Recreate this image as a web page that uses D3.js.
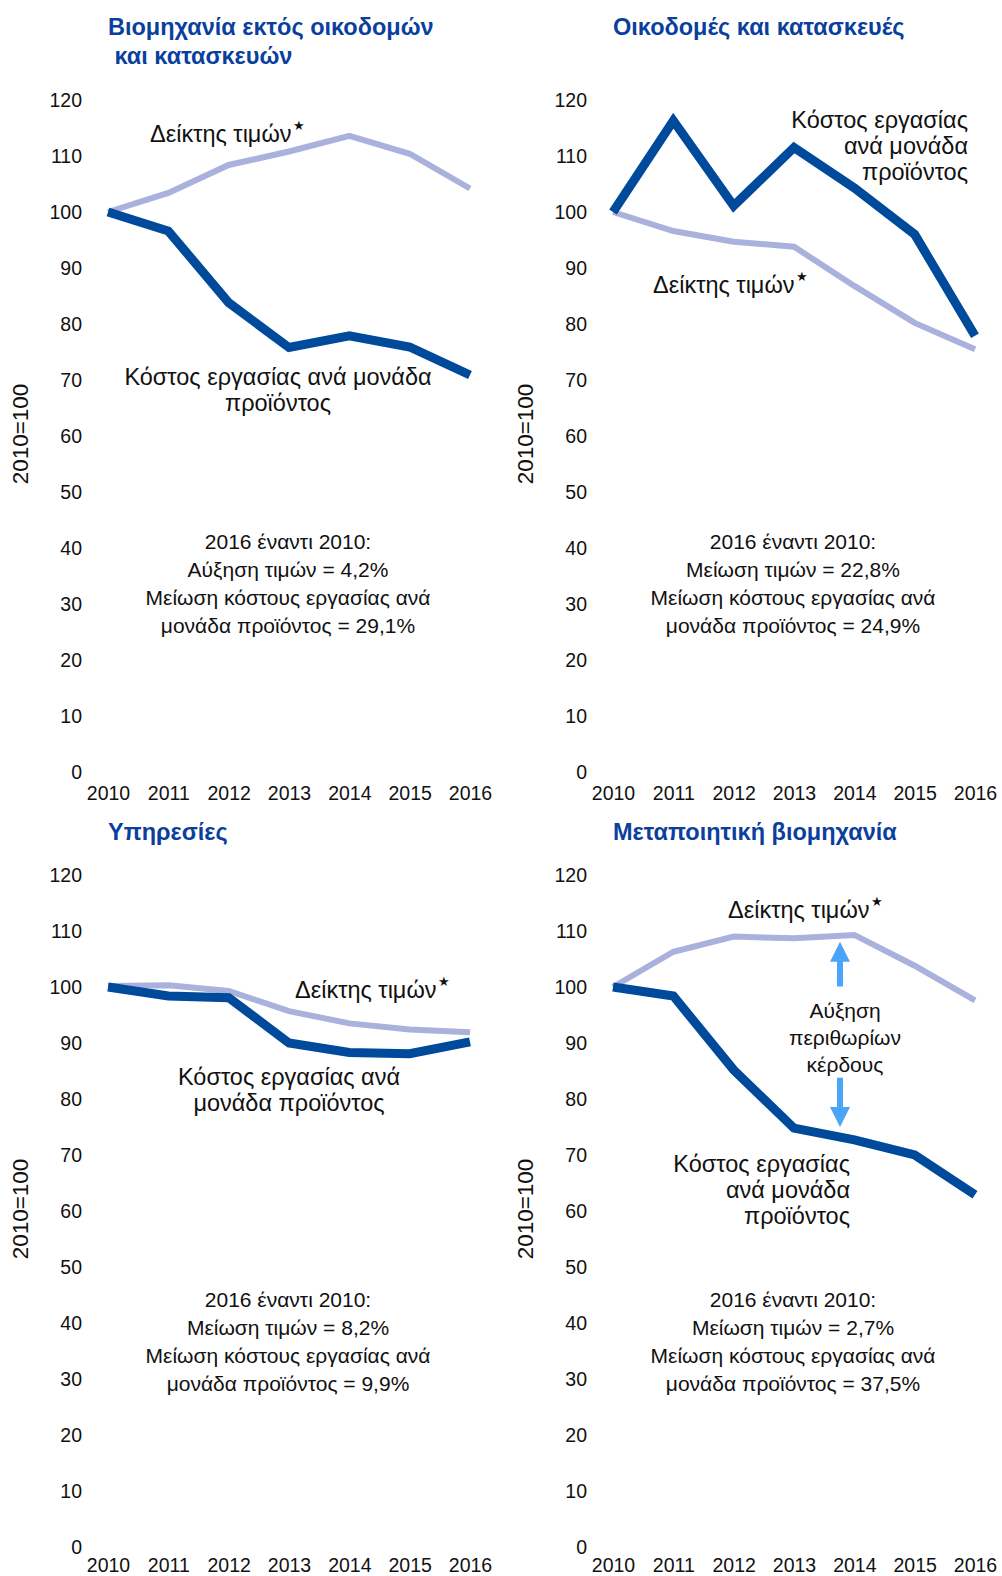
<!DOCTYPE html>
<html>
<head>
<meta charset="utf-8">
<script src="https://cdn.jsdelivr.net/npm/d3@7"></script>
<style>
  body { margin: 0; background: #fff; }
  svg { display: block; font-family: "Liberation Sans", Arial, sans-serif; }
</style>
</head>
<body>
<svg id="chart" width="1002" height="1576"></svg>
<script>
// data (2010 = 100)
const years = [2010, 2011, 2012, 2013, 2014, 2015, 2016];
const yTicks = [0, 10, 20, 30, 40, 50, 60, 70, 80, 90, 100, 110, 120];

const industryPrice = [100, 103.4, 108.4, 110.8, 113.6, 110.4, 104.2];
const industryCost = [100, 96.6, 83.8, 75.8, 77.9, 75.9, 70.9];
const constructionPrice = [100, 96.6, 94.7, 93.8, 86.8, 80.2, 75.5];
const constructionCost = [100, 116.3, 101.1, 111.5, 104.3, 96.0, 77.9];
const servicesPrice = [100.2, 100.3, 99.3, 95.7, 93.5, 92.4, 91.9];
const servicesCost = [100, 98.4, 98.1, 90.0, 88.3, 88.1, 90.2];
const manufPrice = [100, 106.3, 109.0, 108.7, 109.3, 103.8, 97.6];
const manufCost = [100, 98.4, 85.2, 74.8, 72.7, 70.0, 62.9];

const titles = [
  ["Βιομηχανία εκτός οικοδομών", " και κατασκευών"],
  ["Οικοδομές και κατασκευές"],
  ["Υπηρεσίες"],
  ["Μεταποιητική βιομηχανία"]
];
const notes = [
  ["2016 έναντι 2010:", "Αύξηση τιμών = 4,2%", "Μείωση κόστους εργασίας ανά", "μονάδα προϊόντος = 29,1%"],
  ["2016 έναντι 2010:", "Μείωση τιμών = 22,8%", "Μείωση κόστους εργασίας ανά", "μονάδα προϊόντος = 24,9%"],
  ["2016 έναντι 2010:", "Μείωση τιμών = 8,2%", "Μείωση κόστους εργασίας ανά", "μονάδα προϊόντος = 9,9%"],
  ["2016 έναντι 2010:", "Μείωση τιμών = 2,7%", "Μείωση κόστους εργασίας ανά", "μονάδα προϊόντος = 37,5%"]
];
const priceLabel = "Δείκτης τιμών";
const yLabel = "2010=100";
const marginLabel = ["Αύξηση", "περιθωρίων", "κέρδους"];

const darkBlue = "#004a9c";
const lightBlue = "#a9b1dc";
const titleBlue = "#0a3f9e";
const arrowBlue = "#4aa5f8";

const svg = d3.select("#chart");

// layout of the four panels
const panels = [
  { ox: 0, top: 100, bottom: 772, pad: 14, price: industryPrice, cost: industryCost, title: titles[0], note: notes[0],
    titleY: 35, noteY: 549,
    priceLab: { x: 150, y: 142, anchor: "start" },
    costLab: { x: 278, y: 385, anchor: "middle", lines: ["Κόστος εργασίας ανά μονάδα", "προϊόντος"] } },
  { ox: 505, top: 100, bottom: 772, pad: 14, price: constructionPrice, cost: constructionCost, title: titles[1], note: notes[1],
    titleY: 35, noteY: 549,
    priceLab: { x: 653, y: 293, anchor: "start" },
    costLab: { x: 968, y: 128, anchor: "end", lines: ["Κόστος εργασίας", "ανά μονάδα", "προϊόντος"] } },
  { ox: 0, top: 875, bottom: 1547, pad: 11, price: servicesPrice, cost: servicesCost, title: titles[2], note: notes[2],
    titleY: 840, noteY: 1307,
    priceLab: { x: 295, y: 998, anchor: "start" },
    costLab: { x: 289, y: 1085, anchor: "middle", lines: ["Κόστος εργασίας ανά", "μονάδα προϊόντος"] } },
  { ox: 505, top: 875, bottom: 1547, pad: 11, price: manufPrice, cost: manufCost, title: titles[3], note: notes[3],
    titleY: 840, noteY: 1307, arrows: true,
    priceLab: { x: 728, y: 918, anchor: "start" },
    costLab: { x: 850, y: 1172, anchor: "end", lines: ["Κόστος εργασίας", "ανά μονάδα", "προϊόντος"] } }
];

panels.forEach(p => {
  const g = svg.append("g");
  const x = d3.scalePoint().domain(years).range([p.ox + 108, p.ox + 470]);
  const y = d3.scaleLinear().domain([0, 120]).range([p.bottom, p.top]);

  // title
  const t = g.append("text")
    .attr("font-weight", "bold").attr("font-size", 23.5).attr("fill", titleBlue);
  p.title.forEach((s, i) => {
    t.append("tspan").attr("x", p.ox + 108).attr("y", p.titleY + i * 29)
      .attr("xml:space", "preserve").text(s);
  });

  // y axis
  const ya = g.append("g")
    .attr("transform", `translate(${p.ox + 90},0)`)
    .call(d3.axisLeft(y).tickValues(yTicks).tickSize(0).tickPadding(8));
  ya.select(".domain").remove();
  ya.selectAll("text").attr("font-size", 19.5).attr("fill", "#111")
    .attr("font-family", "Liberation Sans, Arial, sans-serif");

  // x axis
  const xa = g.append("g")
    .attr("transform", `translate(0,${p.bottom})`)
    .call(d3.axisBottom(x).tickSize(0).tickPadding(p.pad));
  xa.select(".domain").remove();
  xa.selectAll("text").attr("font-size", 19.5).attr("fill", "#111")
    .attr("font-family", "Liberation Sans, Arial, sans-serif");

  // y label
  g.append("text")
    .attr("transform", `translate(${p.ox + 28},${(p.top + p.bottom) / 2 - 2}) rotate(-90)`)
    .attr("text-anchor", "middle").attr("font-size", 22.5).attr("fill", "#111")
    .text(yLabel);

  const line = d3.line().x((d, i) => x(years[i])).y(d => y(d));

  g.append("path").datum(p.price)
    .attr("d", line).attr("fill", "none")
    .attr("stroke", lightBlue).attr("stroke-width", 6);
  g.append("path").datum(p.cost)
    .attr("d", line).attr("fill", "none")
    .attr("stroke", darkBlue).attr("stroke-width", 9);

  // series labels
  const pl = g.append("text").attr("x", p.priceLab.x).attr("y", p.priceLab.y)
    .attr("text-anchor", p.priceLab.anchor).attr("font-size", 23.5).attr("fill", "#111");
  pl.append("tspan").text(priceLabel);
  pl.append("tspan").attr("font-size", 13).attr("dy", -12).attr("dx", 1).text("★");

  const cl = g.append("text").attr("text-anchor", p.costLab.anchor)
    .attr("font-size", 23.5).attr("fill", "#111");
  p.costLab.lines.forEach((s, i) => {
    cl.append("tspan").attr("x", p.costLab.x).attr("y", p.costLab.y + i * 26).text(s);
  });

  // note
  const nt = g.append("text").attr("text-anchor", "middle")
    .attr("font-size", 21).attr("fill", "#111");
  p.note.forEach((s, i) => {
    nt.append("tspan").attr("x", p.ox + 288).attr("y", p.noteY + i * 28).text(s);
  });

  if (p.arrows) {
    const ax = p.ox + 335;
    const arrow = (from, to) => {
      const y0 = y(from), y1 = y(to);
      const dir = y1 < y0 ? -1 : 1;
      const head = y1 - dir * 20;
      g.append("path")
        .attr("d", `M${ax - 3},${y0} L${ax - 3},${head} L${ax - 10},${head} L${ax},${y1} L${ax + 10},${head} L${ax + 3},${head} L${ax + 3},${y0} Z`)
        .attr("fill", arrowBlue);
    };
    arrow(100.1, 108.1);
    arrow(83.8, 75.0);
    const mt = g.append("text").attr("text-anchor", "middle")
      .attr("font-size", 21).attr("fill", "#111");
    marginLabel.forEach((s, i) => {
      mt.append("tspan").attr("x", ax + 5).attr("y", 1018 + i * 27).text(s);
    });
  }
});
</script>
</body>
</html>
